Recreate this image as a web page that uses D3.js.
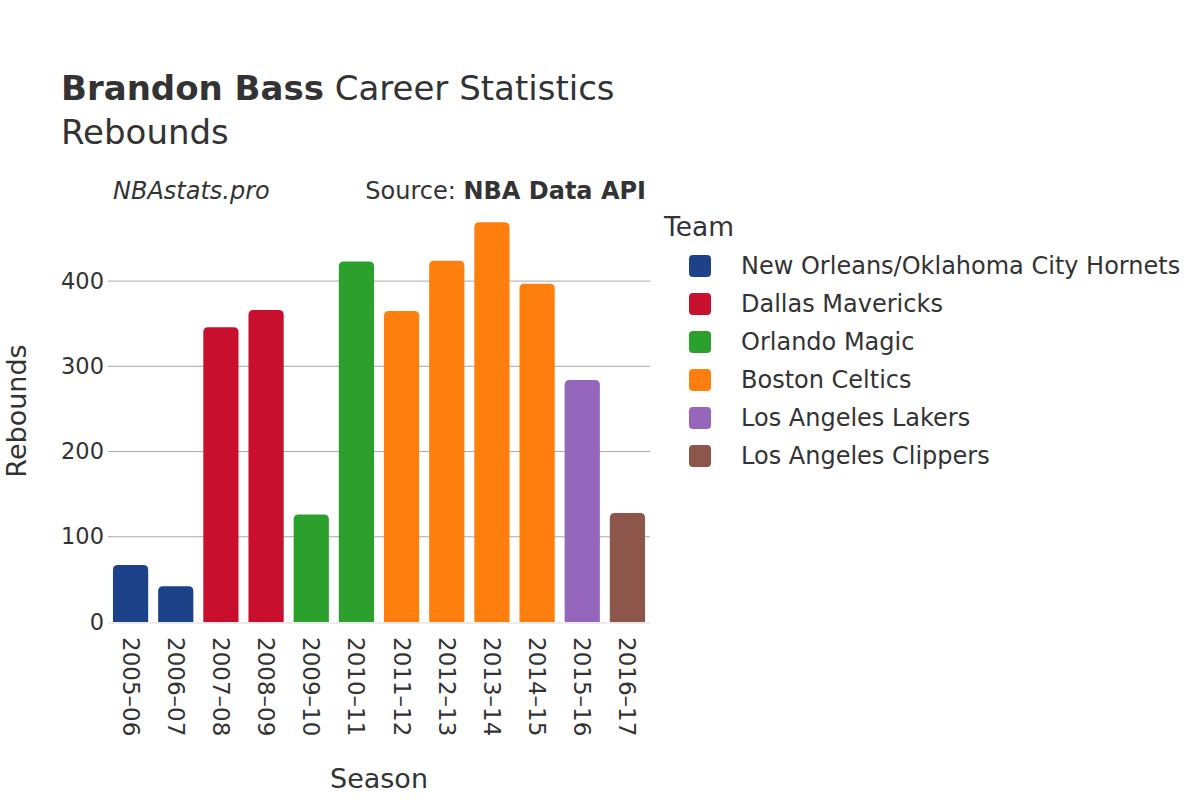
<!DOCTYPE html>
<html>
<head>
<meta charset="utf-8">
<script src="https://cdn.jsdelivr.net/npm/d3@7"></script>
<style>
  html, body { margin: 0; padding: 0; background: #fff; }
  svg { display: block; font-family: "DejaVu Sans", sans-serif; }
</style>
</head>
<body>
<svg id="chart" width="1200" height="800"></svg>
<script>
const seasons = ["2005–06","2006–07","2007–08","2008–09","2009–10","2010–11","2011–12","2012–13","2013–14","2014–15","2015–16","2016–17"];
const rebounds = [67, 42, 346, 366, 126, 423, 365, 424, 469, 397, 284, 128];
const seasonTeams = [
  "New Orleans/Oklahoma City Hornets","New Orleans/Oklahoma City Hornets",
  "Dallas Mavericks","Dallas Mavericks",
  "Orlando Magic","Orlando Magic",
  "Boston Celtics","Boston Celtics","Boston Celtics","Boston Celtics",
  "Los Angeles Lakers","Los Angeles Clippers"
];
const teamNames = ["New Orleans/Oklahoma City Hornets","Dallas Mavericks","Orlando Magic","Boston Celtics","Los Angeles Lakers","Los Angeles Clippers"];
const teamColors = ["#1d428a","#c8102e","#2ca02c","#ff7f0e","#9467bd","#8c564b"];
const yTicks = [0, 100, 200, 300, 400];

const svg = d3.select("#chart");
const textColor = "#333";

const x = d3.scaleBand().domain(seasons).range([108, 650]).paddingInner(0.22).paddingOuter(0.11);
const y = d3.scaleLinear().domain([0, 494]).range([622, 201]);
const color = d3.scaleOrdinal().domain(teamNames).range(teamColors);

// gridlines
svg.append("g").selectAll("line").data(yTicks.filter(d => d > 0)).join("line")
  .attr("x1", 108).attr("x2", 650)
  .attr("y1", d => y(d)).attr("y2", d => y(d))
  .attr("stroke", "#a8a8a8").attr("stroke-width", 1);

// zero line
svg.append("line").attr("x1", 108).attr("x2", 650)
  .attr("y1", y(0) + 1).attr("y2", y(0) + 1)
  .attr("stroke", "#ebebeb").attr("stroke-width", 2);

// bars with rounded top corners
function barPath(x0, w, yTop, yBase, r) {
  r = Math.min(r, w / 2, (yBase - yTop));
  return `M${x0},${yBase} L${x0},${yTop + r} Q${x0},${yTop} ${x0 + r},${yTop} L${x0 + w - r},${yTop} Q${x0 + w},${yTop} ${x0 + w},${yTop + r} L${x0 + w},${yBase} Z`;
}
svg.append("g").selectAll("path").data(seasons).join("path")
  .attr("d", (s, i) => barPath(x(s), x.bandwidth(), y(rebounds[i]), y(0), 5))
  .attr("fill", (s, i) => color(seasonTeams[i]));

// y axis tick labels
const yAxis = d3.axisLeft(y).tickValues(yTicks).tickSize(0).tickPadding(0);
const gy = svg.append("g").attr("transform", "translate(104,0)").call(yAxis);
gy.select(".domain").remove();
gy.selectAll("text").attr("font-size", 22.5).attr("fill", textColor)
  .attr("font-family", "DejaVu Sans, sans-serif");

// x axis tick labels (rotated)
const xAxis = d3.axisBottom(x).tickSize(0).tickPadding(0);
const gx = svg.append("g").attr("transform", "translate(0,622)").call(xAxis);
gx.select(".domain").remove();
gx.selectAll("text")
  .attr("font-size", 23).attr("fill", textColor)
  .attr("font-family", "DejaVu Sans, sans-serif")
  .attr("text-anchor", "start")
  .attr("transform", "translate(0,15) rotate(90)")
  .attr("x", 0).attr("y", 0).attr("dy", "0.35em");

// axis titles
svg.append("text").attr("x", 379).attr("y", 788)
  .attr("text-anchor", "middle").attr("font-size", 27).attr("fill", textColor)
  .text("Season");
svg.append("text").attr("transform", "translate(26,411) rotate(-90)")
  .attr("text-anchor", "middle").attr("font-size", 27).attr("fill", textColor)
  .text("Rebounds");

// title
const title = svg.append("text").attr("x", 61).attr("y", 100)
  .attr("font-size", 34).attr("fill", textColor);
title.append("tspan").attr("font-weight", "bold").text("Brandon Bass");
title.append("tspan").text(" Career Statistics");
svg.append("text").attr("x", 61).attr("y", 144)
  .attr("font-size", 34).attr("fill", textColor).text("Rebounds");

// subtitle
svg.append("text").attr("x", 113).attr("y", 199)
  .attr("font-size", 24).attr("font-style", "italic").attr("fill", textColor)
  .text("NBAstats.pro");
const src = svg.append("text").attr("x", 646).attr("y", 199)
  .attr("text-anchor", "end").attr("font-size", 24).attr("fill", textColor);
src.append("tspan").text("Source: ");
src.append("tspan").attr("font-weight", "bold").text("NBA Data API");

// legend
svg.append("text").attr("x", 664).attr("y", 236)
  .attr("font-size", 26.5).attr("fill", textColor).text("Team");
const leg = svg.append("g").selectAll("g").data(teamNames).join("g")
  .attr("transform", (d, i) => `translate(0,${266 + i * 38})`);
leg.append("rect").attr("x", 689).attr("y", -11).attr("width", 22).attr("height", 22)
  .attr("rx", 4).attr("ry", 4).attr("fill", d => color(d));
leg.append("text").attr("x", 741).attr("y", 0).attr("dy", "0.35em")
  .attr("font-size", 24).attr("fill", textColor).text(d => d);
</script>
</body>
</html>
